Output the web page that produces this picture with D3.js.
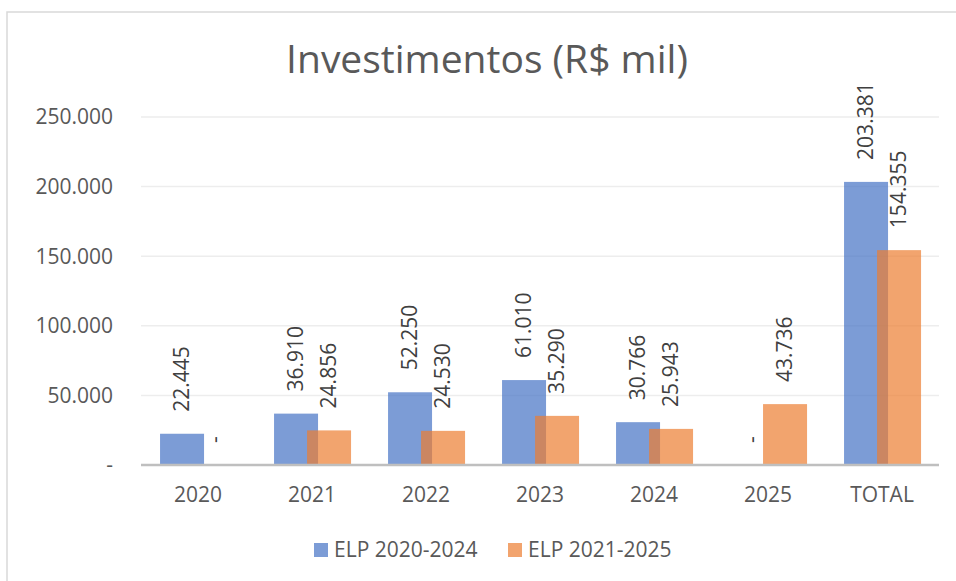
<!DOCTYPE html>
<html>
<head>
<meta charset="utf-8">
<script src="https://cdn.jsdelivr.net/npm/d3@7"></script>
<style>
    body { margin: 0; background: #fff; }
    text { font-family: "Open Sans", sans-serif; }
</style>
</head>
<body>
<script>
const categories = ["2020", "2021", "2022", "2023", "2024", "2025", "TOTAL"];
const seriesNames = ["ELP 2020-2024", "ELP 2021-2025"];
const elp2020 = [22445, 36910, 52250, 61010, 30766, 0, 203381];
const elp2021 = [0, 24856, 24530, 35290, 25943, 43736, 154355];
const yTicks = [0, 50000, 100000, 150000, 200000, 250000];
const colors = ["#4472C4", "#ED7D31"];

const W = 956, H = 581;
const margin = { top: 117, right: 17, bottom: 116, left: 141 },
    width = W - margin.left - margin.right,
    height = H - margin.top - margin.bottom;

const ptbr = d3.formatLocale({ decimal: ",", thousands: ".", grouping: [3], currency: ["R$", ""] });
const fmt = v => v === 0 ? "-" : ptbr.format(",d")(v);

const svg = d3.select("body").append("svg")
    .attr("width", W)
    .attr("height", H);

// chart border (only top/left visible in the crop)
svg.append("rect")
    .attr("x", 7).attr("y", 12)
    .attr("width", W + 20).attr("height", H + 20)
    .attr("fill", "none")
    .attr("stroke", "#d9d9d9")
    .attr("stroke-width", 1.5);

svg.append("text")
    .attr("x", 487)
    .attr("y", 73)
    .attr("text-anchor", "middle")
    .attr("font-size", 39)
    .attr("fill", "#595959")
    .text("Investimentos (R$ mil)");

const g = svg.append("g")
    .attr("transform", "translate(" + margin.left + "," + margin.top + ")");

const x = d3.scaleBand().domain(categories).range([0, width]);
const y = d3.scaleLinear().domain([0, 250000]).range([height, 0]);

// bar offsets inside a band (two bars overlapping)
const barW = x.bandwidth() * 0.386;
const offs = [x.bandwidth() * 0.167, x.bandwidth() * 0.167 + barW * 0.75];

// gridlines
g.append("g")
    .selectAll("line")
    .data(yTicks.filter(d => d > 0))
    .enter().append("line")
    .attr("x1", 0).attr("x2", width)
    .attr("y1", d => y(d)).attr("y2", d => y(d))
    .attr("stroke", "#ededed")
    .attr("stroke-width", 1.5);

// y tick labels
g.append("g")
    .selectAll("text")
    .data(yTicks)
    .enter().append("text")
    .attr("x", -28)
    .attr("y", d => y(d))
    .attr("dy", "0.35em")
    .attr("text-anchor", "end")
    .attr("font-size", 21)
    .attr("fill", "#595959")
    .text(fmt);

const series = [elp2020, elp2021];
series.forEach(function (vals, si) {
    const rows = vals.map((v, i) => ({ cat: categories[i], v: v }));
    g.append("g")
        .selectAll("rect")
        .data(rows)
        .enter().append("rect")
        .attr("x", d => x(d.cat) + offs[si])
        .attr("y", d => y(d.v))
        .attr("width", barW)
        .attr("height", d => height - y(d.v))
        .attr("fill", colors[si])
        .attr("fill-opacity", 0.7);
});

series.forEach(function (vals, si) {
    const rows = vals.map((v, i) => ({ cat: categories[i], v: v }));
    g.append("g")
        .selectAll("text")
        .data(rows)
        .enter().append("text")
        .attr("transform", d => "translate(" + (x(d.cat) + offs[si] + barW / 2) + "," + (y(d.v) - 22) + ") rotate(-90)")
        .attr("dy", "0.35em")
        .attr("text-anchor", "start")
        .attr("font-size", 21)
        .attr("fill", "#404040")
        .text(d => fmt(d.v));
});

// baseline
g.append("line")
    .attr("x1", 0).attr("x2", width)
    .attr("y1", height).attr("y2", height)
    .attr("stroke", "#bfbfbf")
    .attr("stroke-width", 2.5);

// x labels
g.append("g")
    .selectAll("text")
    .data(categories)
    .enter().append("text")
    .attr("x", d => x(d) + x.bandwidth() / 2)
    .attr("y", height + 37)
    .attr("text-anchor", "middle")
    .attr("font-size", 21)
    .attr("fill", "#595959")
    .text(d => d);

// legend
const legend = svg.append("g");
const legX = [314, 508];
seriesNames.forEach(function (name, i) {
    legend.append("rect")
        .attr("x", legX[i]).attr("y", 543)
        .attr("width", 14).attr("height", 14)
        .attr("fill", colors[i])
        .attr("fill-opacity", 0.7);
    legend.append("text")
        .attr("x", legX[i] + 20)
        .attr("y", 557)
        .attr("font-size", 21)
        .attr("fill", "#595959")
        .text(name);
});
</script>
</body>
</html>
